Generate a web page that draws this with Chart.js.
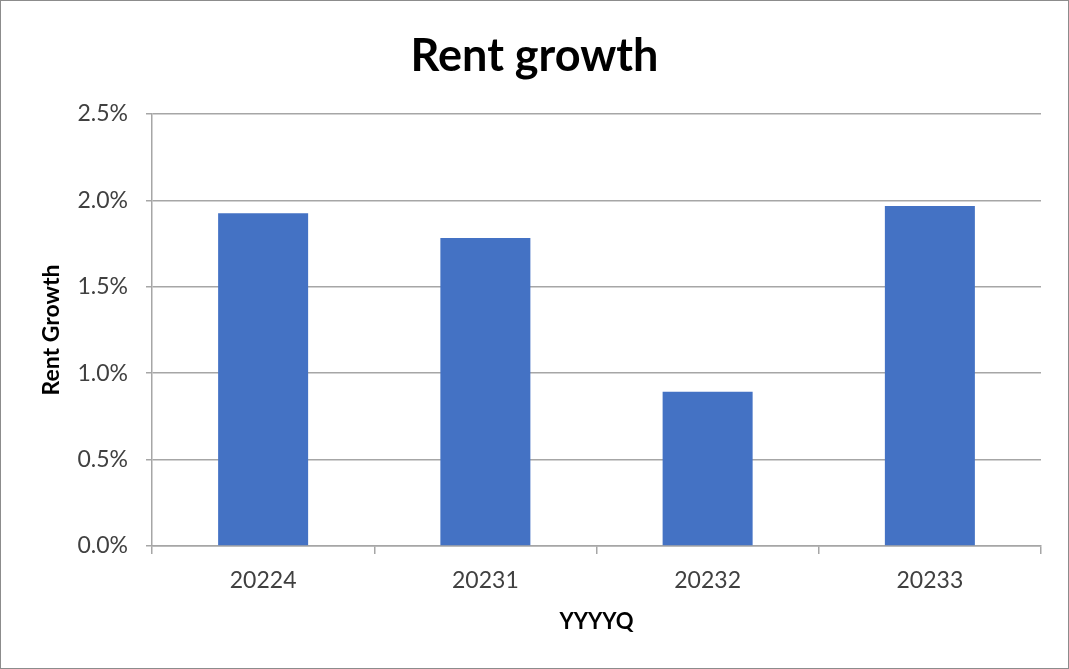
<!DOCTYPE html>
<html>
<head>
<meta charset="utf-8">
<script src="https://cdn.jsdelivr.net/npm/chart.js@4/dist/chart.umd.min.js"></script>
<style>
  html, body { margin: 0; padding: 0; background: #fff; }
  #wrap { position: absolute; left: 0; top: 0; width: 1069px; height: 669px; box-sizing: border-box; border: 1px solid #8c8c8c; background: #fff; }
  canvas { display: block; }
</style>
</head>
<body>
<div id="wrap"><canvas id="c"></canvas></div>
<script>
const categories = ['20224', '20231', '20232', '20233'];
const rentGrowth = [1.925, 1.782, 0.893, 1.968];
const yTicks = [0, 0.5, 1.0, 1.5, 2.0, 2.5];

const FONT = 'Lato, "Open Sans", sans-serif';

new Chart(document.getElementById('c'), {
  type: 'bar',
  data: {
    labels: categories,
    datasets: [{
      label: 'Rent Growth',
      data: rentGrowth,
      backgroundColor: '#4472C4',
      borderWidth: 0,
      barPercentage: 0.405,
      categoryPercentage: 1.0
    }]
  },
  options: {
    responsive: true,
    maintainAspectRatio: false,
    devicePixelRatio: 1,
    animation: false,
    layout: { padding: { left: 27, right: 27, top: 0, bottom: 0 } },
    plugins: {
      legend: { display: false },
      tooltip: { enabled: false },
      title: {
        display: true,
        text: 'Rent growth',
        color: '#000',
        font: { family: FONT, size: 45, weight: 'bold', lineHeight: 1.2 },
        padding: { top: 28, bottom: 31 }
      }
    },
    scales: {
      x: {
        grid: { display: true, drawOnChartArea: false, offset: true, color: '#a6a6a6', lineWidth: 1.5, tickLength: 8 },
        border: { display: true, color: '#a6a6a6', width: 1.5 },
        ticks: { color: '#404040', font: { family: FONT, size: 23 }, padding: 13, maxRotation: 0 },
        title: {
          display: true, text: 'YYYYQ', color: '#000',
          font: { family: FONT, size: 22, weight: 'bold', lineHeight: 1.2 },
          padding: { top: 0, bottom: 33 }
        },
        afterFit(scale) { scale.height = 122; }
      },
      y: {
        min: 0, max: 2.5,
        afterBuildTicks(scale) { scale.ticks = yTicks.map(v => ({ value: v })); },
        grid: { color: '#a6a6a6', lineWidth: 1.5, tickLength: 6 },
        border: { display: true, color: '#a6a6a6', width: 1.5 },
        ticks: {
          color: '#404040', font: { family: FONT, size: 23 }, padding: 18,
          callback: (v) => Number(v).toFixed(1) + '%'
        },
        title: {
          display: true, text: 'Rent Growth', color: '#000',
          font: { family: FONT, size: 23, weight: 'bold', lineHeight: 1.2 },
          padding: { top: 10, bottom: 0 }
        },
        afterFit(scale) { scale.width = 124; }
      }
    }
  }
});
</script>
</body>
</html>
